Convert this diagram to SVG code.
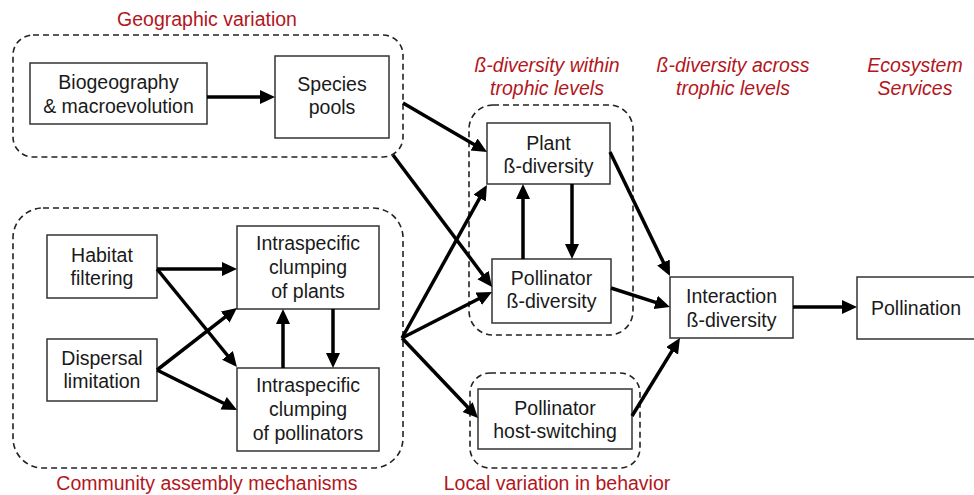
<svg xmlns="http://www.w3.org/2000/svg" width="974" height="495" viewBox="0 0 974 495">
<defs>
<marker id="ah" markerUnits="userSpaceOnUse" markerWidth="17" markerHeight="15" refX="4" refY="7" orient="auto">
<path d="M0,0 L15,7 L0,14 z" fill="#000"/>
</marker>
<style>
.box{fill:#fff;stroke:#333;stroke-width:1.5}
.grp{fill:none;stroke:#222;stroke-width:1.6;stroke-dasharray:6 4}
.t{font-family:"Liberation Sans",Arial,sans-serif;font-size:19.5px;fill:#1a1a1a;text-anchor:middle}
.h{font-family:"Liberation Sans",Arial,sans-serif;font-size:19.5px;fill:#b3161c;text-anchor:middle}
.hi{font-style:italic}
.c line{stroke:#000;stroke-width:3.5;marker-end:url(#ah)}
</style>
</defs>
<rect width="974" height="495" fill="#fff"/>

<g id="group-geographic">
<rect class="grp" x="13" y="35" width="390" height="122" rx="20"/>
<text class="h" x="207" y="26">Geographic variation</text>
</g>
<g id="group-community">
<rect class="grp" x="13" y="208" width="390" height="260" rx="30"/>
<text class="h" x="207" y="490">Community assembly mechanisms</text>
</g>
<g id="group-within">
<rect class="grp" x="469" y="105" width="164" height="230" rx="24"/>
<text class="h hi" x="547" y="72">ß-diversity within</text>
<text class="h hi" x="547" y="95">trophic levels</text>
</g>
<g id="group-local">
<rect class="grp" x="470" y="373" width="170" height="95" rx="20"/>
<text class="h" x="557" y="490">Local variation in behavior</text>
</g>
<g id="header-across">
<text class="h hi" x="733" y="72">ß-diversity across</text>
<text class="h hi" x="733" y="95">trophic levels</text>
</g>
<g id="header-services">
<text class="h hi" x="915" y="72">Ecosystem</text>
<text class="h hi" x="915" y="95">Services</text>
</g>

<g id="biogeography">
<rect class="box" x="30" y="63" width="177" height="61"/>
<text class="t" x="118.5" y="89">Biogeography</text>
<text class="t" x="118.5" y="113">&amp; macroevolution</text>
</g>
<g id="species-pools">
<rect class="box" x="275" y="56" width="114" height="82"/>
<text class="t" x="332" y="91">Species</text>
<text class="t" x="332" y="114">pools</text>
</g>
<g id="habitat-filtering">
<rect class="box" x="47" y="235" width="110" height="63"/>
<text class="t" x="102" y="262">Habitat</text>
<text class="t" x="102" y="285">filtering</text>
</g>
<g id="dispersal-limitation">
<rect class="box" x="47" y="339" width="110" height="62"/>
<text class="t" x="102" y="365">Dispersal</text>
<text class="t" x="102" y="388">limitation</text>
</g>
<g id="clumping-plants">
<rect class="box" x="237" y="226" width="142" height="83"/>
<text class="t" x="308" y="250">Intraspecific</text>
<text class="t" x="308" y="274">clumping</text>
<text class="t" x="308" y="298">of plants</text>
</g>
<g id="clumping-pollinators">
<rect class="box" x="237" y="368" width="142" height="83"/>
<text class="t" x="308" y="392">Intraspecific</text>
<text class="t" x="308" y="416">clumping</text>
<text class="t" x="308" y="440">of pollinators</text>
</g>
<g id="plant-beta">
<rect class="box" x="487" y="123" width="123" height="61"/>
<text class="t" x="548.5" y="150">Plant</text>
<text class="t" x="548.5" y="173">ß-diversity</text>
</g>
<g id="pollinator-beta">
<rect class="box" x="492" y="259" width="119" height="64"/>
<text class="t" x="551.5" y="285">Pollinator</text>
<text class="t" x="551.5" y="308">ß-diversity</text>
</g>
<g id="host-switching">
<rect class="box" x="478" y="389" width="154" height="60"/>
<text class="t" x="555" y="415">Pollinator</text>
<text class="t" x="555" y="438">host-switching</text>
</g>
<g id="interaction-beta">
<rect class="box" x="670" y="277" width="123" height="61"/>
<text class="t" x="731.5" y="303">Interaction</text>
<text class="t" x="731.5" y="327">ß-diversity</text>
</g>
<g id="pollination">
<rect class="box" x="857" y="277" width="125" height="62"/>
<text class="t" x="916" y="315">Pollination</text>
</g>

<g id="connectors" class="c">
<line x1="207" y1="97" x2="264" y2="97"/>
<line x1="403" y1="103" x2="477.5" y2="146.5"/>
<line x1="393" y1="155" x2="485.4" y2="278.2"/>
<line x1="157" y1="269" x2="226" y2="269"/>
<line x1="157" y1="269" x2="230" y2="358.5"/>
<line x1="157" y1="370" x2="228.3" y2="314.7"/>
<line x1="157" y1="370" x2="227.2" y2="405"/>
<line x1="283" y1="368" x2="283" y2="320"/>
<line x1="333" y1="309" x2="333" y2="357"/>
<line x1="402" y1="338" x2="481.6" y2="194.6"/>
<line x1="402" y1="338" x2="482.2" y2="297"/>
<line x1="402" y1="338" x2="470.4" y2="410"/>
<line x1="523" y1="259" x2="523" y2="195"/>
<line x1="572" y1="184" x2="572" y2="248"/>
<line x1="610" y1="152" x2="665.2" y2="266.1"/>
<line x1="611" y1="288" x2="659.5" y2="303.6"/>
<line x1="632" y1="416" x2="674.2" y2="347.4"/>
<line x1="793" y1="307" x2="846" y2="307"/>
</g>
</svg>
